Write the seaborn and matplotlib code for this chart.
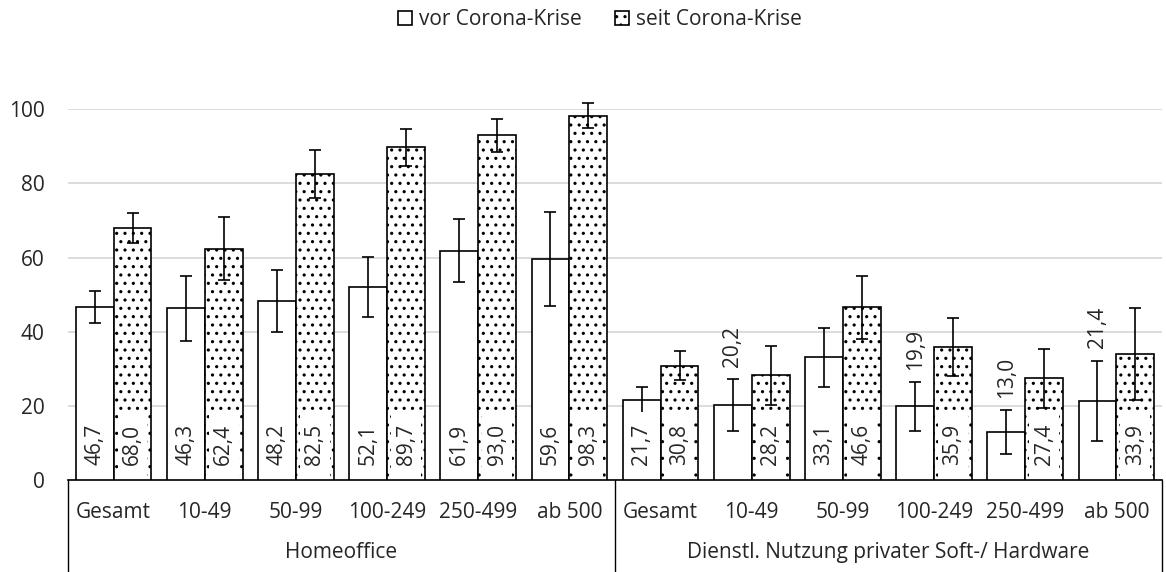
import numpy as np
import pandas as pd
import matplotlib.pyplot as plt
import seaborn as sns

# data
groups = ['Homeoffice', 'Dienstl. Nutzung privater Soft-/ Hardware']
sizes = ['Gesamt', '10-49', '50-99', '100-249', '250-499', 'ab 500']
periods = ['vor Corona-Krise', 'seit Corona-Krise']

vor_values = [46.7, 46.3, 48.2, 52.1, 61.9, 59.6, 21.7, 20.2, 33.1, 19.9, 13.0, 21.4]
seit_values = [68.0, 62.4, 82.5, 89.7, 93.0, 98.3, 30.8, 28.2, 46.6, 35.9, 27.4, 33.9]
vor_errors = [4.3, 8.8, 8.4, 8.1, 8.4, 12.7, 3.5, 7.1, 8.0, 6.6, 5.9, 10.8]
seit_errors = [4.0, 8.5, 6.4, 5.0, 4.4, 3.4, 3.9, 8.0, 8.5, 7.8, 7.9, 12.4]

y_ticks = [0, 20, 40, 60, 80, 100]

sns.set_theme(style='white')
plt.rcParams['font.family'] = ['Open Sans', 'DejaVu Sans']
plt.rcParams['hatch.linewidth'] = 1.1

keys = [f'{g}|{s}' for g in groups for s in sizes]
rows = []
for period, vals, errs in [(periods[0], vor_values, vor_errors),
                           (periods[1], seit_values, seit_errors)]:
    for k, v, e in zip(keys, vals, errs):
        rows.append({'key': k, 'period': period, 'value': v, 'err': e})
df = pd.DataFrame(rows)

fig, ax = plt.subplots(figsize=(11.66, 5.72), dpi=100)
fig.subplots_adjust(left=68/1166, right=1162/1166, bottom=1-480/572, top=1-109.3/572)

sns.barplot(data=df, x='key', y='value', hue='period', order=keys, hue_order=periods,
            palette=['white', 'white'], edgecolor='black', linewidth=1.2,
            width=0.83, gap=0, errorbar=None, legend=False, ax=ax, zorder=3)

for bar in ax.containers[1]:
    bar.set_hatch('..')

fs = 15

# error bars and value labels
for ci, period in enumerate(periods):
    sub = df[df['period'] == period].reset_index(drop=True)
    for bar, (_, r) in zip(ax.containers[ci], sub.iterrows()):
        x = bar.get_x() + bar.get_width() / 2
        ax.errorbar(x, r['value'], yerr=r['err'], fmt='none', ecolor='black',
                    elinewidth=1.2, capsize=4.6, capthick=1.2, clip_on=False, zorder=5)
        label = f"{r['value']:.1f}".replace('.', ',')
        if r['value'] - r['err'] >= 17:
            ax.text(x, 9.5, label, rotation=90, ha='center', va='center', fontsize=fs,
                    zorder=6,
                    bbox=dict(boxstyle='square,pad=0.6', facecolor='white',
                              edgecolor='none', mutation_aspect=0.35))
        else:
            ax.text(x, r['value'] + r['err'] + 3.3, label, rotation=90,
                    ha='center', va='bottom', fontsize=fs, zorder=6)

ax.set_xlim(-0.5, len(keys) - 0.5)
ax.set_ylim(0, 100)
ax.set_yticks(y_ticks)
ax.set_yticklabels([str(t) for t in y_ticks], fontsize=fs)
ax.yaxis.grid(True, color='#d9d9d9', linewidth=1.3, zorder=0)
ax.set_axisbelow(True)
ax.tick_params(axis='y', length=0, pad=17)
ax.set_xticks(range(len(keys)))
ax.set_xticklabels(sizes * len(groups), fontsize=fs)
ax.tick_params(axis='x', length=0, pad=16)
ax.set_xlabel('')
ax.set_ylabel('')
for side in ['left', 'right', 'top']:
    ax.spines[side].set_visible(False)
ax.spines['bottom'].set_color('black')
ax.spines['bottom'].set_linewidth(1.2)

trans = ax.get_xaxis_transform()
n = len(sizes)
for gi, g in enumerate(groups):
    ax.text(gi * n + (n - 1) / 2, -0.196, g, transform=trans, ha='center', va='center',
            fontsize=fs)
for sep in range(len(groups) + 1):
    ax.plot([sep * n - 0.5] * 2, [0, -0.26], transform=trans, color='black',
            linewidth=1.0, clip_on=False)

ax.legend(handles=[ax.containers[0][0], ax.containers[1][0]], labels=periods,
          loc='center', bbox_to_anchor=(0.486, 1.241), ncol=2, frameon=False,
          fontsize=fs, handlelength=0.7, handleheight=0.7, handletextpad=0.3,
          columnspacing=1.6)

fig.savefig('out.png', dpi=100)
